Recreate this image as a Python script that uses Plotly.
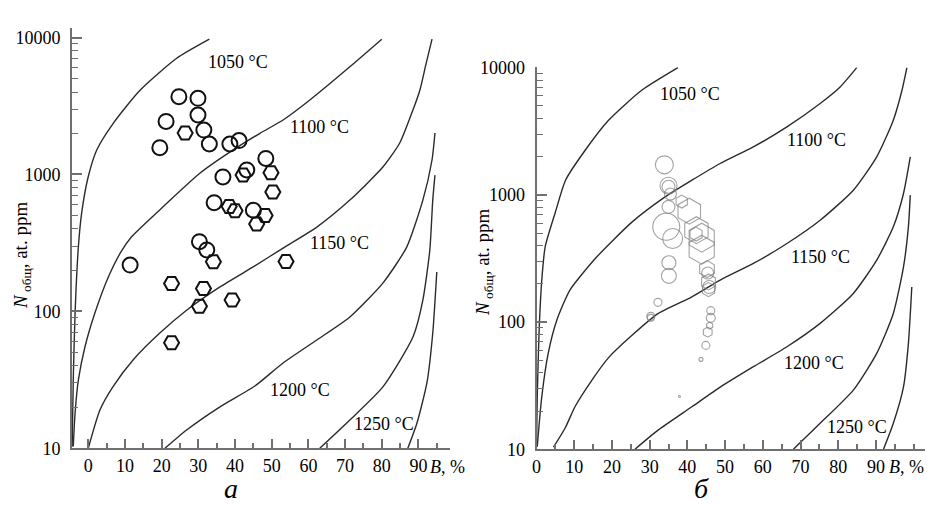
import math
import plotly.graph_objects as go

# ---------------- panel "а" (left): isotherms, B (%) vs N_total (at. ppm)
iso_labels = ["1050 °C", "1100 °C", "1150 °C", "1200 °C", "1250 °C"]

a_1050_b = [-4.4, -4.1, -3.6, -2.7, -1.8, -0.1, 2.3, 6.8, 14.1, 24.1, 33.0]
a_1050_n = [10.3, 31.5, 97, 297, 524, 942, 1510, 2366, 4125, 7063, 9730]
a_1100_b = [-4.1, -3.6, -2.7, -0.9, 1.8, 5.5, 8.9, 11.8, 20.9, 30.4, 39.5, 46.8, 53.1, 60.4, 71.3, 80.0]
a_1100_n = [10.3, 18.1, 31.6, 55.2, 97.3, 179, 272, 351, 598, 1020, 1511, 2000, 2501, 3502, 6120, 9730]
a_1150_b = [0.0, 3.2, 6.7, 12.2, 19.5, 26.8, 35.9, 45.4, 53.1, 62.3, 71.3, 80.3, 84.9, 88.5, 90.4, 92.0, 93.7]
a_1150_n = [10, 19.1, 28.1, 44.2, 69.5, 102, 151, 215, 290, 413, 650, 1133, 1698, 2959, 4144, 6310, 9750]
a_1200_b = [20.9, 26.8, 35.9, 45.4, 53.1, 62.3, 71.3, 80.3, 86.8, 91.2, 93.7, 94.5]
a_1200_n = [10, 13.6, 20.1, 28.5, 42.0, 61.8, 91.0, 161, 295, 650, 1276, 2010]
a_1250_b = [63.1, 71.3, 80.3, 88.5, 91.2, 93.1, 93.9, 94.5]
a_1250_n = [10, 16.1, 28.1, 65.0, 121, 281, 650, 990]
a_iso6_b = [87.1, 89.6, 92.3, 93.9, 95.0]
a_iso6_n = [10, 15.3, 30.0, 69.5, 194]

a_label_b = [40.8, 63.1, 68.6, 57.7, 80.6]
a_label_n = [6640, 2224, 316, 26.7, 15.1]

a_circle_b = [24.7, 29.9, 29.9, 21.2, 31.5, 33.0, 19.5, 38.6, 41.1, 48.4, 36.7, 43.2, 34.3, 45.0, 30.3, 32.3, 11.4]
a_circle_n = [3700, 3600, 2720, 2440, 2110, 1670, 1570, 1670, 1770, 1310, 960, 1080, 622, 548, 323, 281, 218]
a_hex_b = [26.4, 49.8, 42.2, 50.3, 38.4, 40.0, 48.2, 45.9, 34.1, 22.7, 31.4, 39.2, 30.3, 22.7, 53.9]
a_hex_n = [2010, 1030, 991, 745, 584, 544, 502, 435, 230, 160, 147, 121, 109, 59.1, 231]

# ---------------- panel "б" (right)
b_1050_b = [0.0, 0.2, 0.7, 1.4, 2.3, 5.0, 7.7, 12.9, 19.1, 27.9, 37.5]
b_1050_n = [10.5, 25.9, 86.5, 214, 391, 731, 1304, 2243, 3861, 6642, 10000]
b_1100_b = [0.2, 1.4, 3.1, 5.4, 8.9, 16.0, 25.3, 34.1, 41.2, 48.7, 57.5, 66.4, 75.2, 80.5, 84.9]
b_1100_n = [10.5, 25.9, 56.8, 104, 179, 326, 611, 965, 1304, 1765, 2384, 3422, 5224, 7047, 10000]
b_1150_b = [4.5, 7.6, 10.2, 14.7, 19.0, 25.1, 32.3, 41.2, 48.7, 57.5, 66.4, 75.2, 84.0, 90.2, 94.6, 96.9, 98.2]
b_1150_n = [10.4, 14.7, 21.6, 35.0, 52.1, 77.6, 117, 158, 214, 289, 415, 632, 1088, 1989, 3864, 6647, 10000]
b_1200_b = [26.1, 32.3, 41.2, 48.7, 57.5, 66.4, 75.2, 84.0, 90.2, 94.6, 97.3, 99.1]
b_1200_n = [10, 14.2, 21.6, 30.8, 44.6, 64.0, 97.7, 168, 307, 561, 1026, 1986]
b_1250_b = [68.1, 75.2, 84.0, 90.2, 94.6, 97.3, 98.6, 99.1]
b_1250_n = [10, 16.0, 29.2, 56.8, 117, 272, 561, 995]
b_iso6_b = [92.0, 94.6, 97.3, 98.6, 99.5]
b_iso6_n = [10, 16.0, 31.0, 68.1, 189]

b_label_b = [40.7, 74.3, 75.2, 73.6, 85.1]
b_label_n = [6266, 2692, 326, 47.4, 15.1]

b_circle_b = [33.9, 35.0, 35.0, 35.5, 35.0, 34.4, 36.1, 35.1, 35.1, 32.2, 30.3, 30.3, 46.2, 46.2, 44.9, 43.6, 45.4, 45.8, 37.9]
b_circle_n = [1723, 1181, 1159, 1016, 805, 561, 454, 293, 231, 143, 111, 108, 123, 108, 65.6, 50.9, 243, 189, 26.0]
b_circle_size = [18, 17, 13, 12, 13, 27, 20, 14, 15, 8, 8, 7, 8, 9, 8, 4, 12, 13, 2]
b_hex_b = [38.5, 40.5, 42.4, 43.8, 42.3, 43.8, 45.2, 45.6, 45.6, 45.9, 45.4]
b_hex_n = [886, 745, 528, 461, 492, 371, 261, 207, 180, 93.9, 83.4]
b_hex_size = [13, 26, 27, 29, 14, 29, 17, 16, 14, 7, 10]

x_tick_vals = [0, 10, 20, 30, 40, 50, 60, 70, 80, 90]
x_tick_text = ["0", "10", "20", "30", "40", "50", "60", "70", "80", "90"]
y_tick_vals = [10, 100, 1000, 10000]
y_tick_text = ["10", "100", "1000", "10000"]
y_minor_vals = [k * 10 ** e for e in range(1, 4) for k in range(2, 10)]

SERIF = "Liberation Serif"
CURVE = "#2b2b2b"
AXIS = "#707070"

fig = go.Figure()

def add_curve(b, n, xa, ya):
    fig.add_trace(go.Scatter(
        x=b, y=n, mode="lines", xaxis=xa, yaxis=ya,
        line=dict(color=CURVE, width=1.4, shape="spline", smoothing=0.6),
        hoverinfo="skip", showlegend=False))

for b, n in [(a_1050_b, a_1050_n), (a_1100_b, a_1100_n), (a_1150_b, a_1150_n),
             (a_1200_b, a_1200_n), (a_1250_b, a_1250_n), (a_iso6_b, a_iso6_n)]:
    add_curve(b, n, "x", "y")
for b, n in [(b_1050_b, b_1050_n), (b_1100_b, b_1100_n), (b_1150_b, b_1150_n),
             (b_1200_b, b_1200_n), (b_1250_b, b_1250_n), (b_iso6_b, b_iso6_n)]:
    add_curve(b, n, "x2", "y2")

# left markers (black, open)
fig.add_trace(go.Scatter(x=a_circle_b, y=a_circle_n, mode="markers", xaxis="x", yaxis="y",
                         marker=dict(symbol="circle-open", size=15, color="#111",
                                     line=dict(width=2, color="#111")),
                         showlegend=False))
fig.add_trace(go.Scatter(x=a_hex_b, y=a_hex_n, mode="markers", xaxis="x", yaxis="y",
                         marker=dict(symbol="hexagon2-open", size=15, color="#111",
                                     line=dict(width=2, color="#111")),
                         showlegend=False))
# right markers (grey, open, sized)
fig.add_trace(go.Scatter(x=b_circle_b, y=b_circle_n, mode="markers", xaxis="x2", yaxis="y2",
                         marker=dict(symbol="circle-open", size=b_circle_size, color="#7c7c7c",
                                     line=dict(width=1.1, color="#7c7c7c")),
                         showlegend=False))
fig.add_trace(go.Scatter(x=b_hex_b, y=b_hex_n, mode="markers", xaxis="x2", yaxis="y2",
                         marker=dict(symbol="hexagon-open", size=b_hex_size, color="#7c7c7c",
                                     line=dict(width=1.1, color="#7c7c7c")),
                         showlegend=False))

W, H = 927, 506

def xaxis(domain, rng):
    return dict(domain=domain, range=rng, showline=True, linecolor=AXIS, linewidth=2,
                automargin=False,
                ticks="inside", ticklen=9, tickwidth=1.5, tickcolor=AXIS,
                tickmode="array", tickvals=x_tick_vals, ticktext=x_tick_text,
                minor=dict(tick0=0, dtick=5, ticks="inside", ticklen=5, tickwidth=1.5, tickcolor=AXIS),
                showgrid=False, zeroline=False,
                tickfont=dict(family=SERIF, size=18, color="black"))

def yaxis(domain, rng, anchor):
    return dict(domain=domain, range=rng, type="log", anchor=anchor,
                automargin=False,
                showline=True, linecolor=AXIS, linewidth=2,
                ticks="inside", ticklen=10, tickwidth=1.5, tickcolor=AXIS,
                tickmode="array", tickvals=y_tick_vals, ticktext=y_tick_text,
                minor=dict(tickmode="array", tickvals=y_minor_vals, ticks="inside",
                           ticklen=6, tickwidth=1.2, tickcolor=AXIS),
                ticklabelstandoff=6,
                showgrid=False, zeroline=False,
                tickfont=dict(family=SERIF, size=18, color="black"))

xa = xaxis([72 / W, 450 / W], [-4.44, 98.6])
xa["anchor"] = "y"
xb = xaxis([536.5 / W, 925 / W], [0, 103.0])
xb["anchor"] = "y2"

fig.update_layout(
    width=W, height=H, margin=dict(l=0, r=0, t=0, b=0, autoexpand=False),
    paper_bgcolor="white", plot_bgcolor="rgba(0,0,0,0)",
    showlegend=False,
    xaxis=xa, xaxis2=xb,
    yaxis=yaxis([1 - 448.3 / H, 1 - 28 / H], [1, 4.07], "x"),
    yaxis2=yaxis([1 - 449.3 / H, 1 - 67.3 / H], [1, 4.003], "x2"),
)

ann = []
for t, b, n in zip(iso_labels, a_label_b, a_label_n):
    ann.append(dict(x=b, y=math.log10(n), xref="x", yref="y", text=t, showarrow=False,
                    font=dict(family=SERIF, size=18, color="black")))
for t, b, n in zip(iso_labels, b_label_b, b_label_n):
    ann.append(dict(x=b, y=math.log10(n), xref="x2", yref="y2", text=t, showarrow=False,
                    font=dict(family=SERIF, size=18, color="black")))

title = "<i>N</i><sub> общ</sub>, at. ppm"
ann.append(dict(x=22 / W, y=1 - 256 / H, xref="paper", yref="paper", text=title, textangle=-90,
                showarrow=False, xanchor="center", yanchor="middle",
                font=dict(family=SERIF, size=19, color="black")))
ann.append(dict(x=484 / W, y=1 - 263 / H, xref="paper", yref="paper", text=title, textangle=-90,
                showarrow=False, xanchor="center", yanchor="middle",
                font=dict(family=SERIF, size=19, color="black")))
for xpx in (447, 906):
    ann.append(dict(x=xpx / W, y=1 - 467 / H, xref="paper", yref="paper", text="<i>B</i>, %",
                    showarrow=False, xanchor="center", yanchor="middle",
                    font=dict(family=SERIF, size=18, color="black")))
ann.append(dict(x=231 / W, y=0, xref="paper", yref="paper", text="<i>а</i>",
                showarrow=False, xanchor="center", yanchor="bottom",
                font=dict(family=SERIF, size=28, color="black")))
ann.append(dict(x=701 / W, y=0, xref="paper", yref="paper", text="<i>б</i>",
                showarrow=False, xanchor="center", yanchor="bottom",
                font=dict(family=SERIF, size=28, color="black")))
fig.update_layout(annotations=ann)

fig.write_html("out.html", config={"displayModeBar": False},
               post_script="document.body.style.margin='0px';document.body.style.padding='0px';")
